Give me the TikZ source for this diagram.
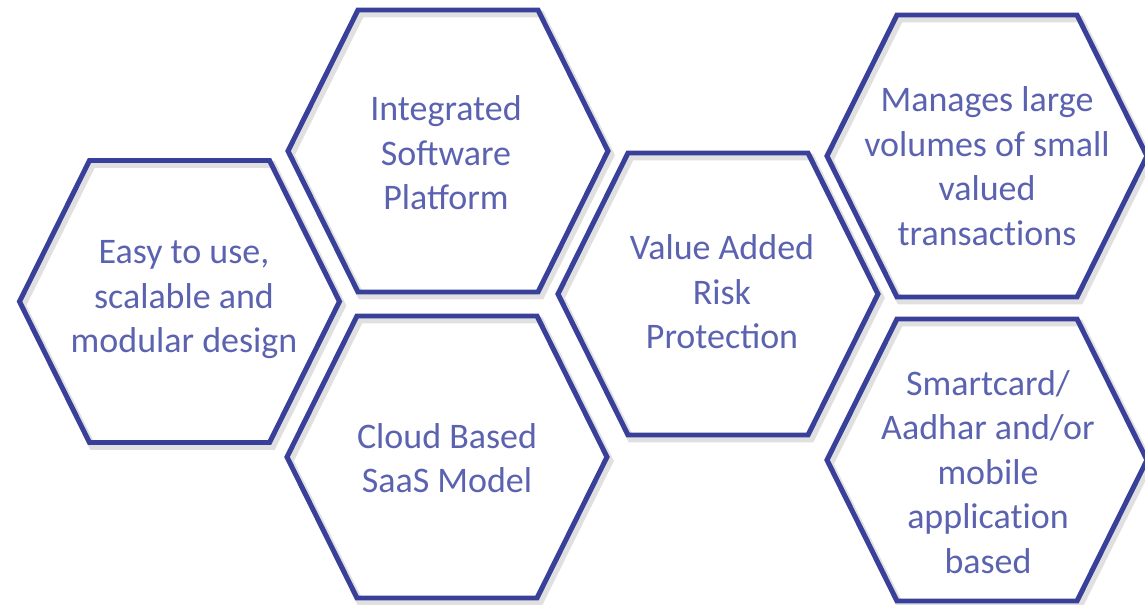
\documentclass[tikz,border=0pt]{standalone}
\usepackage{fontspec}
\setmainfont{Carlito}
\usetikzlibrary{backgrounds}
\definecolor{hexblue}{RGB}{56,64,154}
\definecolor{hextext}{RGB}{91,98,176}

\begin{document}
\begin{tikzpicture}[x=1bp, y=-1bp]
	  \tikzstyle{every node} = [text=hextext, align=center, font=\fontsize{36.1}{44.7}\selectfont]
	  \useasboundingbox (0,0) rectangle (1145,605);
	  \node (easy) at (184, 300) {Easy to use,\\scalable and\\modular design};
	  \node (platform) at (446, 153) {Integrated\\Software\\Platform};
	  \node (cloud) at (447, 458) {Cloud Based\\SaaS Model};
	  \node (risk) at (722, 292) {Value Added\\Risk\\Protection};
	  \node (volumes) at (987, 166) {Manages large\\volumes of small\\valued\\transact\kern0pt ions};
	  \node (smart) at (988, 472) {Smartcard/\\Aadhar and/or\\mobile\\applicat\kern0pt ion\\based};
	  \begin{scope}[on background layer]
	  \foreach \cx/\cy in {179.5/301.5, 448/151, 447/457, 718/294, 987/156, 987/460}
	    \draw [line width=7, black!12, shift={(\cx+3,\cy+4)}] (-160,0) -- (-90,-141) -- (90,-141) -- (160,0) -- (90,141) -- (-90,141) -- cycle;
	  \end{scope}
	  \foreach \cx/\cy in {179.5/301.5, 448/151, 447/457, 718/294, 987/156, 987/460}
	    \draw [line width=5, hexblue, shift={(\cx,\cy)}] (-160,0) -- (-90,-141) -- (90,-141) -- (160,0) -- (90,141) -- (-90,141) -- cycle;
	\end{tikzpicture}
\end{document}
